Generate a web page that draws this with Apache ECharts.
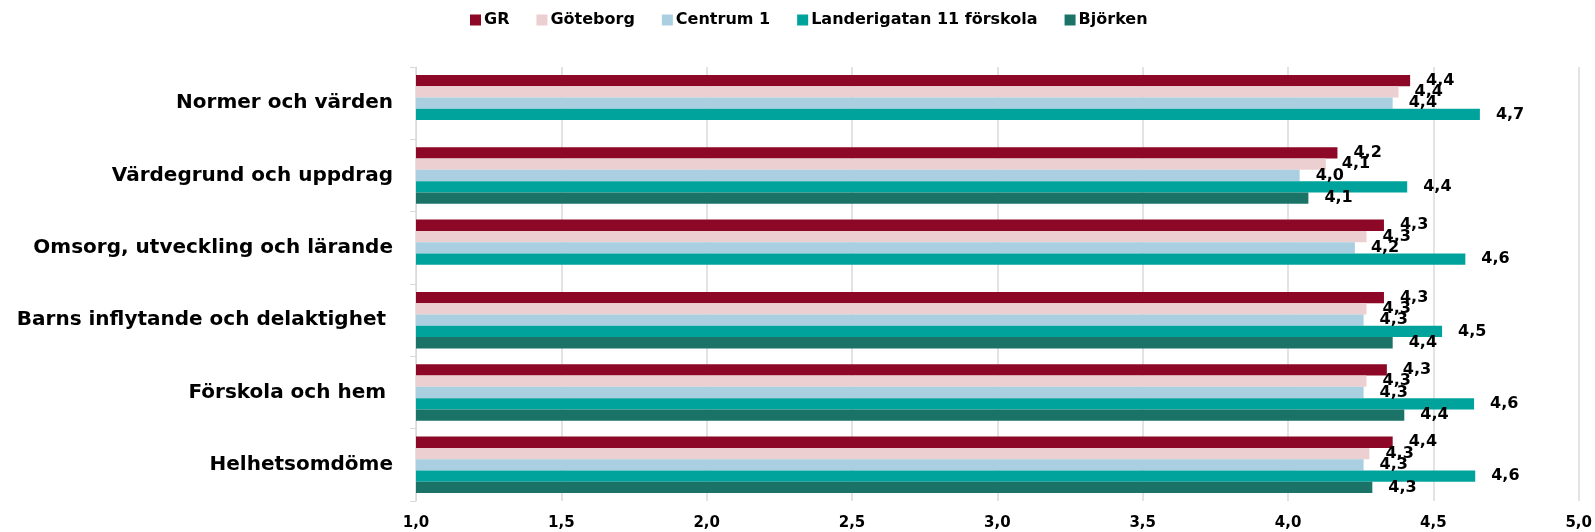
<!DOCTYPE html>
<html>
<head>
<meta charset="utf-8">
<script src="https://cdn.jsdelivr.net/npm/echarts@6/dist/echarts.min.js"></script>
<style>
html,body{margin:0;padding:0;background:#fff;}
#chart{width:1595px;height:532px;}
</style>
</head>
<body>
<div id="chart"></div>
<script>
const categories = ['Normer och värden', 'Värdegrund och uppdrag', 'Omsorg, utveckling och lärande', 'Barns inflytande och delaktighet ', 'Förskola och hem ', 'Helhetsomdöme'];
const seriesNames = ['GR', 'Göteborg', 'Centrum 1', 'Landerigatan 11 förskola', 'Björken'];
const gr = [4.42, 4.17, 4.33, 4.33, 4.34, 4.36];
const goteborg = [4.38, 4.13, 4.27, 4.27, 4.27, 4.28];
const centrum1 = [4.36, 4.04, 4.23, 4.26, 4.26, 4.26];
const landerigatan = [4.66, 4.41, 4.61, 4.53, 4.64, 4.644];
const bjorken = [null, 4.07, null, 4.36, 4.40, 4.29];
const xTicks = { min: 1, max: 5, interval: 0.5 };

const colors = ['#8C0826', '#ECCFD0', '#A9CFE0', '#00A39B', '#1B7368'];
const values = [gr, goteborg, centrum1, landerigatan, bjorken];
const FONT = 'DejaVu Sans';
const fmt = v => Number(v).toFixed(1).replace('.', ',');

const chart = echarts.init(document.getElementById('chart'), null, { renderer: 'canvas' });
chart.setOption({
  backgroundColor: '#fff',
  animation: false,
  color: colors,
  legend: {
    top: 7,
    left: 465,
    itemWidth: 11,
    itemHeight: 11,
    itemGap: 27,
    icon: 'rect',
    textStyle: { fontFamily: FONT, fontWeight: 'bold', fontSize: 16, color: '#000', padding: [0, 0, 0, -2] },
    data: seriesNames
  },
  grid: { left: 416, right: 16, top: 67, bottom: 31, containLabel: false },
  xAxis: {
    type: 'value',
    min: xTicks.min,
    max: xTicks.max,
    interval: xTicks.interval,
    axisLine: { show: false },
    axisTick: { show: false },
    splitLine: { show: true, lineStyle: { color: '#E3E3E3', width: 2 } },
    axisLabel: { formatter: fmt, fontFamily: FONT, fontWeight: 'bold', fontSize: 15, color: '#000', margin: 15 }
  },
  yAxis: {
    type: 'category',
    data: categories,
    inverse: true,
    axisLine: { show: true, lineStyle: { color: '#D9D9D9', width: 1 } },
    axisTick: { show: true, length: 6, lineStyle: { color: '#D9D9D9' } },
    axisLabel: { fontFamily: FONT, fontWeight: 'bold', fontSize: 20, color: '#000', margin: 23 }
  },
  series: seriesNames.map((name, i) => ({
    name: name,
    type: 'bar',
    data: values[i],
    barWidth: 11.3,
    barGap: '0%',
    itemStyle: { color: colors[i] },
    label: {
      show: true,
      position: 'right',
      distance: 16,
      formatter: p => fmt(p.value),
      fontFamily: FONT,
      fontWeight: 'bold',
      fontSize: 16,
      color: '#000'
    }
  }))
});
</script>
</body>
</html>
